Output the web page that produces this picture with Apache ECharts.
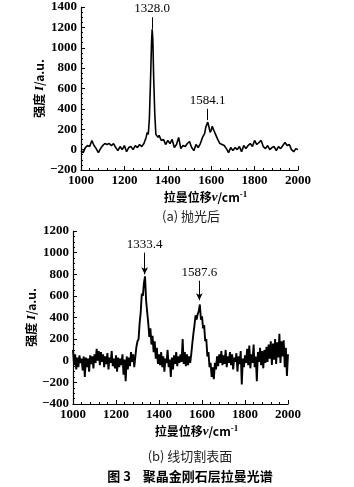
<!DOCTYPE html>
<html>
<head>
<meta charset="utf-8">
<script src="https://cdn.jsdelivr.net/npm/echarts@6/dist/echarts.min.js"></script>
<style>
  html, body { margin: 0; padding: 0; background: #fff; }
  #chart { width: 354px; height: 487px; }
</style>
</head>
<body>
<div id="chart"></div>
<script>
// (a) 抛光后 —— 拉曼位移 / 强度
const shiftA = [1000, 1010, 1020, 1030, 1040, 1050, 1060, 1070, 1080, 1090,
    1100, 1110, 1120, 1130, 1140, 1150, 1160, 1170, 1180, 1190,
    1200, 1210, 1220, 1230, 1240, 1250, 1260, 1270, 1280, 1290,
    1300, 1305, 1310, 1315, 1320, 1325, 1328, 1331, 1335, 1340, 1345, 1350, 1355, 1360,
    1370, 1380, 1390, 1400, 1410, 1420, 1430, 1440, 1450, 1460,
    1470, 1480, 1490, 1500, 1510, 1520, 1530, 1540, 1550, 1560,
    1570, 1575, 1580, 1584, 1590, 1595, 1600, 1605, 1610, 1620,
    1630, 1640, 1650, 1660, 1670, 1680, 1690, 1700, 1710, 1720,
    1730, 1740, 1750, 1760, 1770, 1780, 1790, 1800, 1810, 1820,
    1830, 1840, 1850, 1860, 1870, 1880, 1890, 1900, 1910, 1920,
    1930, 1940, 1950, 1960, 1970, 1980, 1990, 2000];
const intensityA = [-10, -30, 20, 40, 30, 90, 40, 10, -30, 10,
    40, 60, 50, 60, 40, 60, 20, -10, 30, 0,
    40, -20, 20, 30, 0, 40, 20, 50, 30, 60,
    120, 170, 150, 300, 650, 1050, 1180, 1080, 700, 350, 150, 160, 120, 140,
    90, 100, 50, 90, 60, 100, 20, 50, 120, 10,
    40, 30, 60, 80, 20, -10, 50, 20, 60, 120,
    160, 220, 230, 270, 220, 170, 190, 230, 200, 150,
    100, 60, 50, 40, 10, -30, 20, -10, 20, 0,
    30, -20, 40, 10, 40, 60, 30, 90, 50, 70,
    90, 30, 10, 40, 0, 20, 30, -10, 30, 10,
    40, 70, 40, 50, 0, -20, 10, 0];

// (b) 线切割表面 —— 1000~2000，步长 5
const startB = 1000;
const stepB = 5;
const intensityB = [
    100, -40, 60, -80, 30, -60, 50, -20, 20, -90, 40, -150, 30, -60, 20, -100, 50, -30, 40, -70, 60,
    -20, 110, 0, 90, -40, 80, -10, 60, -60, 40, -30, 70, -80, 30, -20, 90, -50, 20, -70, 50,
    -100, 30, -60, 20, -40, 60, -130, 10, -190, 40, -80, 30, -50, 80, -10, 60, -60, 40, 130, 180,
    200, 350, 450, 620, 600, 720, 780, 560, 450, 350, 220, 300, 150, 230, 80, 180, 20, 120, -30, 60,
    -40, 80, -60, 40, -100, 20, -20, 100, -60, 10, -150, 30, -80, 50, -30, 80, -50, 40, -20, 60,
    -10, 200, -30, 80, -50, 60, -40, 40, -20, 60, 160, 250, 330, 420, 380, 430, 460, 520, 380, 410,
    300, 330, 180, 200, 40, 80, -60, -20, -150, -60, -170, -20, -80, 40, -50, 60, -20, 90, -40, 50,
    -30, 100, -60, 40, -20, 80, -40, 60, -80, 30, -10, 70, -100, 40, -30, 90, -220, 20, -60, 50,
    -20, 110, -40, 140, -70, 60, -20, 150, -60, 40, -190, 80, -10, 120, -40, 90, -70, 100, -20, 130,
    -10, 150, 20, 180, -40, 160, 10, 200, -30, 170, 30, 250, -20, 180, 40, 190, -60, 120, -140, 60
];

// 峰位标注
const peaksA = [{ x: 1328.0, label: '1328.0', top: 1300, tip: 1185 },
                { x: 1584.1, label: '1584.1', top: 400, tip: 290 }];
const peaksB = [{ x: 1333.4, label: '1333.4', top: 1000, tip: 800 },
                { x: 1587.6, label: '1587.6', top: 740, tip: 560 }];

const serif = '"Liberation Serif", "DejaVu Serif", serif';
const cjk = '"Noto Sans CJK SC", sans-serif';

const dataA = shiftA.map((s, i) => [s, intensityA[i]]);
const dataB = intensityB.map((v, i) => [startB + i * stepB, v]);

function peakLines(peaks, arrow) {
    return {
        silent: true,
        symbol: arrow ? ['none', 'arrow'] : ['none', 'none'],
        symbolSize: [5, 7],
        lineStyle: { color: '#000', width: 1, type: 'solid' },
        label: {
            show: true,
            position: 'start',
            distance: 2,
            fontFamily: serif,
            fontSize: 13,
            color: '#000'
        },
        data: peaks.map(p => [
            { coord: [p.x, p.top], label: { formatter: p.label } },
            { coord: [p.x, p.tip] }
        ])
    };
}

function makeXAxis(gridIndex) {
    return {
        gridIndex: gridIndex,
        type: 'value',
        min: 1000,
        max: 2000,
        interval: 200,
        name: '拉曼位移{i|ν}/cm{s|-1}',
        nameLocation: 'middle',
        nameGap: 20,
        nameMoveOverlap: false,
        nameTextStyle: {
            fontFamily: cjk,
            fontSize: 12,
            fontWeight: 'bold',
            color: '#000',
            padding: [0, 0, 0, 32],
            rich: {
                i: { fontFamily: serif, fontStyle: 'italic', fontWeight: 'bold', fontSize: 13 },
                s: { fontFamily: serif, fontSize: 9, verticalAlign: 'top', padding: [0, 0, 6, 0] }
            }
        },
        axisLine: { onZero: false, lineStyle: { color: '#000', width: 1.2 } },
        axisTick: { inside: true, length: 4, lineStyle: { color: '#000' } },
        minorTick: { show: true, splitNumber: 5, length: 2, lineStyle: { color: '#000' } },
        axisLabel: {
            fontFamily: serif, fontSize: 13, fontWeight: 'bold', color: '#000', margin: 4,
            formatter: v => String(v)
        },
        splitLine: { show: false }
    };
}

function makeYAxis(gridIndex, min, max) {
    return {
        gridIndex: gridIndex,
        type: 'value',
        min: min,
        max: max,
        interval: 200,
        name: '强度 {i|I}/a.u.',
        nameLocation: 'middle',
        nameGap: 35,
        nameMoveOverlap: false,
        nameTextStyle: {
            fontFamily: cjk,
            fontSize: 12,
            fontWeight: 'bold',
            color: '#000',
            rich: {
                i: { fontFamily: serif, fontStyle: 'italic', fontWeight: 'bold', fontSize: 13 }
            }
        },
        axisLine: { show: true, onZero: false, lineStyle: { color: '#000', width: 1.2 } },
        axisTick: { show: true, inside: true, length: 4, lineStyle: { color: '#000' } },
        minorTick: { show: true, splitNumber: 4, length: 2, lineStyle: { color: '#000' } },
        axisLabel: {
            fontFamily: serif, fontSize: 13, fontWeight: 'bold', color: '#000', margin: 4,
            formatter: v => (v < 0 ? '\u2212' + Math.abs(v) : String(v))
        },
        splitLine: { show: false }
    };
}

const chart = echarts.init(document.getElementById('chart'), null, { renderer: 'canvas' });

const option = {
    backgroundColor: '#fff',
    animation: false,
    title: [
        {
            text: '(a) 抛光后',
            left: 186, top: 205, textAlign: 'center',
            textStyle: { fontFamily: cjk, fontSize: 13, fontWeight: 'normal', color: '#222' }
        },
        {
            text: '(b) 线切割表面',
            left: 185, top: 445, textAlign: 'center',
            textStyle: { fontFamily: cjk, fontSize: 13, fontWeight: 'normal', color: '#222' }
        },
        {
            text: '图 3    聚晶金刚石层拉曼光谱',
            left: 185, top: 465, textAlign: 'center',
            textStyle: { fontFamily: cjk, fontSize: 13, fontWeight: 'bold', color: '#000' }
        }
    ],
    grid: [
        { left: 81, right: 56, top: 7, height: 163 },
        { left: 73, right: 66, top: 231, height: 173 }
    ],
    xAxis: [makeXAxis(0), makeXAxis(1)],
    yAxis: [makeYAxis(0, -200, 1400), makeYAxis(1, -400, 1200)],
    series: [
        {
            type: 'line',
            xAxisIndex: 0,
            yAxisIndex: 0,
            data: dataA,
            showSymbol: false,
            lineStyle: { color: '#000', width: 1.6 },
            markLine: peakLines(peaksA, false)
        },
        {
            type: 'line',
            xAxisIndex: 1,
            yAxisIndex: 1,
            data: dataB,
            showSymbol: false,
            lineStyle: { color: '#000', width: 1.9 },
            markLine: peakLines(peaksB, true)
        }
    ]
};

chart.setOption(option);
</script>
</body>
</html>
